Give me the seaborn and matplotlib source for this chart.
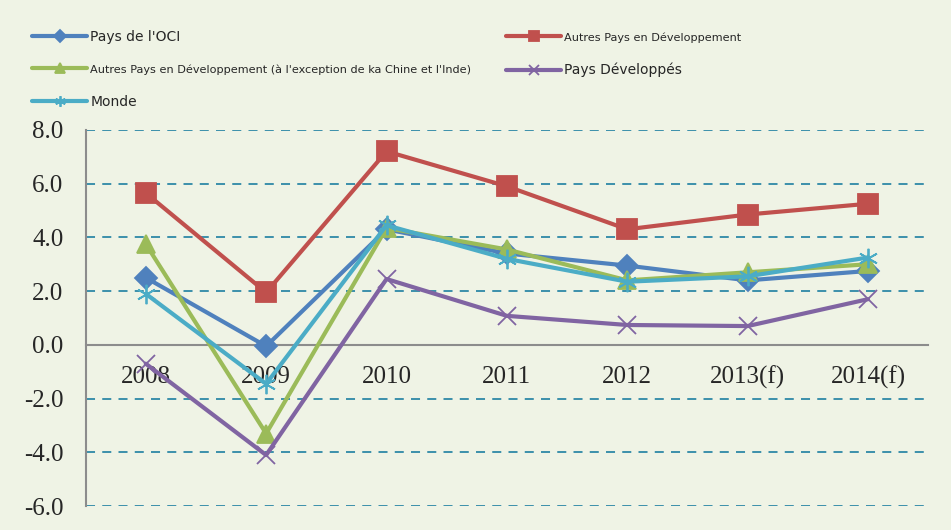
import numpy as np
import pandas as pd
import matplotlib
matplotlib.use("Agg")
import matplotlib.pyplot as plt
import seaborn as sns

years = ["2008", "2009", "2010", "2011", "2012", "2013(f)", "2014(f)"]
oci = [2.5, -0.05, 4.3, 3.4, 2.95, 2.4, 2.75]
autres_dev = [5.65, 1.95, 7.2, 5.9, 4.3, 4.85, 5.25]
autres_excl = [3.75, -3.3, 4.35, 3.55, 2.4, 2.7, 3.0]
pays_dev = [-0.7, -4.1, 2.45, 1.08, 0.74, 0.7, 1.7]
monde = [1.9, -1.45, 4.45, 3.2, 2.35, 2.55, 3.25]

series = [
    ("Pays de l'OCI", oci, "#4F81BD", "D", 11, 10.0),
    ("Autres Pays en Développement", autres_dev, "#C0504D", "s", 14, 8.1),
    ("Autres Pays en Développement (à l'exception de ka Chine et l'Inde)", autres_excl, "#9BBB59", "^", 13, 8.1),
    ("Pays Développés", pays_dev, "#8064A2", "x", 13, 10.0),
    ("Monde", monde, "#4BACC6", (6, 2, 0), 14, 10.0),
]

bg = "#EFF3E5"
sns.set_style("white")
plt.rcParams["font.family"] = ["Liberation Serif", "DejaVu Serif"]

fig = plt.figure(figsize=(9.51, 5.30), dpi=100, facecolor=bg)
ax = fig.add_axes([0.090, 0.045, 0.886, 0.710])
ax.set_facecolor(bg)

x = np.arange(len(years))
handles = {}
for name, vals, color, mk, ms, fs in series:
    df = pd.DataFrame({"x": x, "y": vals})
    sns.lineplot(data=df, x="x", y="y", ax=ax, color=color, linewidth=3,
                 marker=mk, markersize=ms, markeredgecolor=color,
                 markeredgewidth=1.3, label=name, legend=False, zorder=3)
    handles[name] = ax.lines[-1]

ax.set_xlim(-0.5, len(years) - 0.5)
ax.set_ylim(-6, 8)
ax.set_yticks(np.arange(-6, 8.1, 2))
ax.set_yticklabels([f"{v:.1f}" for v in np.arange(-6, 8.1, 2)])
ax.set_xlabel("")
ax.set_ylabel("")

# dashed gridlines
for v in np.arange(-6, 8.1, 2):
    if v != 0:
        ax.axhline(v, color="#2E88A6", linestyle=(0, (5, 4)), linewidth=1.3, zorder=1)

for s in ["top", "right"]:
    ax.spines[s].set_visible(False)
ax.spines["bottom"].set_position(("data", 0))
ax.spines["bottom"].set_color("#8C8C8C")
ax.spines["left"].set_color("#8C8C8C")
ax.spines["bottom"].set_linewidth(1.5)
ax.spines["left"].set_linewidth(1.5)

ax.set_xticks(x)
ax.set_xticklabels(years)
ax.set_xticks(np.arange(-0.5, len(years), 1), minor=True)
ax.tick_params(axis="x", which="major", length=0, pad=15, labelsize=18)
ax.tick_params(axis="x", which="minor", length=6, width=1.5, color="#8C8C8C", direction="out")
ax.tick_params(axis="y", length=6, width=1.5, color="#8C8C8C", direction="out", labelsize=18, pad=10)

order = [series[0][0], series[2][0], series[4][0], series[1][0], series[3][0]]
leg = fig.legend([handles[n] for n in order], order, loc="upper left",
                 bbox_to_anchor=(0.022, 0.965), ncol=2, frameon=False,
                 handlelength=4.4, columnspacing=2.8, labelspacing=1.6,
                 handletextpad=0.25, markerscale=0.55,
                 prop={"family": ["DejaVu Sans"], "size": 9})
sizes = {s[0]: s[5] for s in series}
for t in leg.get_texts():
    t.set_fontsize(sizes[t.get_text()])

fig.savefig("out.png", dpi=100, facecolor=bg)
